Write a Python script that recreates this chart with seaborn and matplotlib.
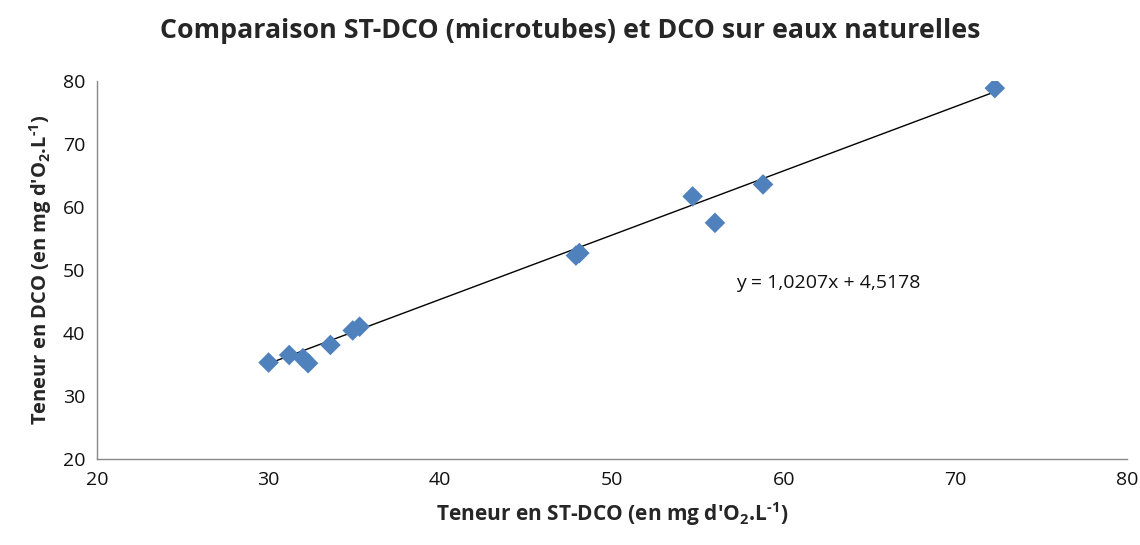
import numpy as np
import pandas as pd
import matplotlib
matplotlib.use("Agg")
import matplotlib.pyplot as plt
import seaborn as sns

st_dco = [30.0, 31.2, 32.0, 32.3, 33.6, 34.9, 35.3, 47.9, 48.1, 54.7, 56.0, 58.8, 72.3]
dco = [35.3, 36.5, 36.0, 35.2, 38.1, 40.4, 41.0, 52.3, 52.7, 61.7, 57.5, 63.6, 78.9]
slope = 1.0207
intercept = 4.5178
title = "Comparaison ST-DCO (microtubes) et DCO sur eaux naturelles"
xlabel = r"Teneur en ST-DCO (en mg d'O$_2$.L$^{\text{-}1}$)"
ylabel = r"Teneur en DCO (en mg d'O$_2$.L$^{\text{-}1}$)"
eq_text = "y = 1,0207x + 4,5178"
xticks = [20, 30, 40, 50, 60, 70, 80]
yticks = [20, 30, 40, 50, 60, 70, 80]

sns.set_style("white")
plt.rcParams['font.family'] = ['Open Sans', 'DejaVu Sans']
plt.rcParams['mathtext.fontset'] = 'custom'
plt.rcParams['mathtext.rm'] = 'Open Sans:bold'
plt.rcParams['mathtext.bf'] = 'Open Sans:bold'

df = pd.DataFrame({"x": st_dco, "y": dco})

fig = plt.figure(figsize=(11.4, 5.45), dpi=100)
ax = fig.add_axes([0.085, 0.158, 0.9036, 0.693])

xs = np.array([min(st_dco), max(st_dco)])
ax.plot(xs, slope * xs + intercept, color="black", lw=1.0, zorder=2)
sns.scatterplot(data=df, x="x", y="y", marker="D", s=110, color="#4F81BD",
                edgecolor="none", ax=ax, zorder=3)

ax.set_xlim(20, 80)
ax.set_ylim(20, 80)
ax.set_xticks(xticks)
ax.set_yticks(yticks)
ax.tick_params(axis="both", labelsize=14, colors="#888888", labelcolor="#111111",
               direction="out", length=5, width=1)
for s in ["top", "right"]:
    ax.spines[s].set_visible(False)
for s in ["left", "bottom"]:
    ax.spines[s].set_color("#888888")
    ax.spines[s].set_linewidth(1)

ax.set_xlabel(xlabel, fontsize=15, fontweight="bold", labelpad=8)
ax.set_ylabel(ylabel, fontsize=14.5, fontweight="bold", labelpad=6)
fig.suptitle(title, fontsize=19.3, fontweight="bold", y=0.967)
ax.text(57.2, 47.9, eq_text, fontsize=14, color="#111111", va="center")

fig.savefig("out.png", dpi=100)
